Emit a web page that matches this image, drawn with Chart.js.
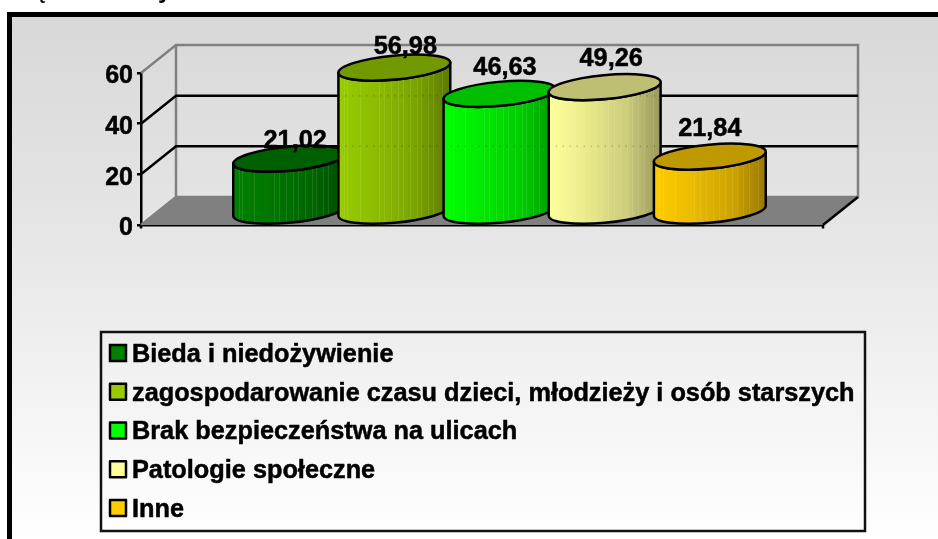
<!DOCTYPE html>
<html lang="pl">
<head>
<meta charset="utf-8">
<title>Wykres</title>
<script src="https://cdn.jsdelivr.net/npm/chart.js@4/dist/chart.umd.min.js"></script>
<style>html,body{margin:0;padding:0;background:#fff}canvas{display:block}</style>
</head>
<body>
<canvas id="c" width="938" height="539"></canvas>
<script>
const categories = [""];
const seriesNames = ["Bieda i niedożywienie","zagospodarowanie czasu dzieci, młodzieży i osób starszych","Brak bezpieczeństwa na ulicach","Patologie społeczne","Inne"];
const seriesValues = [21.02, 56.98, 46.63, 49.26, 21.84];
const seriesColors = ["#008000","#99cc00","#00ff00","#ffff99","#ffcc00"];
const valueTexts = ["21,02","56,98","46,63","49,26","21,84"];
const yTicks = [0, 20, 40, 60];

const FONT = '"Liberation Sans", Arial, sans-serif';
const DEPTH = {x: 35, y: -28};
const LINE = 2.5;
const labelNudge = [[6,-24],[11,-27],[5.5,-32],[6.5,-34],[0,-34]];
const stripeFractions = [.05,.08,.19,.36,.41,.47,.53,.58,.64,.7,.74,.8,.85,.93];

function shade(hex, f){
  const n = parseInt(hex.slice(1),16);
  const c = [n>>16, (n>>8)&255, n&255].map(v => Math.round(v*f));
  return `rgb(${c[0]},${c[1]},${c[2]})`;
}
function heavyText(ctx, text, x, y){
  ctx.lineWidth = .5; ctx.strokeStyle = '#000'; ctx.lineJoin = 'round';
  ctx.strokeText(text, x, y);
  ctx.fillText(text, x, y);
}

const frame = {
  id:'frame',
  beforeDraw(chart){
    const {ctx,width,height} = chart;
    ctx.save();
    ctx.fillStyle = '#fff'; ctx.fillRect(0,0,width,height);
    ctx.fillStyle = '#000'; ctx.fillRect(7,12,width-7,height-12);
    const g = ctx.createLinearGradient(0,17,0,height);
    g.addColorStop(0,'#d8d8d8'); g.addColorStop(.42,'#e6e6e6'); g.addColorStop(1,'#ffffff');
    ctx.fillStyle = g; ctx.fillRect(12,17,width-12,height-17);
    ctx.fillStyle = '#000';
    ctx.font = `bold 24px ${FONT}`;
    ctx.textBaseline = 'alphabetic'; ctx.textAlign = 'left';
    ctx.fillText('ę', 34, -2);
    ctx.fillText('y', 158, -2);
    ctx.restore();
  }
};

const cylinders = {
  id:'cylinders',
  beforeDatasetsDraw(chart){
    const {ctx,chartArea:a,scales:{y}} = chart;
    const dx = DEPTH.x, dy = DEPTH.y;
    const y0 = y.getPixelForValue(0), yT = y.getPixelForValue(60);
    ctx.save();
    // floor
    ctx.fillStyle = '#808080';
    ctx.beginPath();
    ctx.moveTo(a.left,y0); ctx.lineTo(a.left+dx,y0+dy); ctx.lineTo(a.right+dx,y0+dy); ctx.lineTo(a.right,y0);
    ctx.closePath(); ctx.fill();
    // walls
    ctx.lineWidth = LINE; ctx.strokeStyle = '#808080';
    ctx.beginPath();
    ctx.moveTo(a.left,y0); ctx.lineTo(a.left+dx,y0+dy); ctx.lineTo(a.right+dx,y0+dy);
    ctx.lineTo(a.right+dx,yT+dy); ctx.lineTo(a.left+dx,yT+dy); ctx.lineTo(a.left,yT);
    ctx.moveTo(a.left+dx,yT+dy); ctx.lineTo(a.left+dx,y0+dy);
    ctx.stroke();
    // gridlines
    ctx.strokeStyle = '#000';
    ctx.beginPath();
    yTicks.filter(v => v>0 && v<60).forEach(v => {
      const p = y.getPixelForValue(v);
      ctx.moveTo(a.left,p); ctx.lineTo(a.left+dx,p+dy); ctx.lineTo(a.right+dx,p+dy);
    });
    ctx.moveTo(a.right,y0); ctx.lineTo(a.right+dx,y0+dy);
    ctx.moveTo(a.left,y0); ctx.lineTo(a.left,y0+3.5);
    ctx.moveTo(a.right,y0); ctx.lineTo(a.right,y0+3.5);
    ctx.stroke();
    // cylinders
    chart.data.datasets.forEach((ds,i) => {
      const el = chart.getDatasetMeta(i).data[0];
      const cx = el.x + dx/2;
      const A = el.width*0.534, B = 12, phi = -5.35*Math.PI/180;
      const tR = Math.atan2(-B*Math.sin(phi), A*Math.cos(phi)), tL = tR+Math.PI;
      const ex = A*Math.cos(tR)*Math.cos(phi) - B*Math.sin(tR)*Math.sin(phi);
      const ey = A*Math.cos(tR)*Math.sin(phi) + B*Math.sin(tR)*Math.cos(phi);
      const rise = Math.sqrt(A*A*Math.sin(phi)**2 + B*B*Math.cos(phi)**2);
      const cTop = el.y - rise, cBot = el.base - rise;
      const color = seriesColors[i];
      const body = () => {
        ctx.beginPath();
        ctx.moveTo(cx+ex, cTop+ey);
        ctx.lineTo(cx+ex, cBot+ey);
        ctx.ellipse(cx,cBot,A,B,phi,tR,tL,false);
        ctx.lineTo(cx-ex, cTop-ey);
        ctx.ellipse(cx,cTop,A,B,phi,tL,tR,true);
        ctx.closePath();
      };
      const g = ctx.createLinearGradient(cx-ex,0,cx+ex,0);
      g.addColorStop(0,shade(color,1)); g.addColorStop(.3,shade(color,.93));
      g.addColorStop(.7,shade(color,.8)); g.addColorStop(1,shade(color,.6));
      body(); ctx.fillStyle = g; ctx.fill();
      // facets and gridlines showing through the cylinder wall
      ctx.save();
      body(); ctx.clip();
      ctx.lineWidth = 1; ctx.strokeStyle = 'rgba(255,255,255,.1)';
      ctx.beginPath();
      stripeFractions.forEach(f => {
        const sx = Math.round(cx-ex+f*2*ex)+.5;
        ctx.moveTo(sx,cTop-20); ctx.lineTo(sx,cBot+20);
      });
      ctx.stroke();
      ctx.setLineDash([1,6]); ctx.strokeStyle = 'rgba(0,0,0,.22)'; ctx.lineWidth = 2;
      ctx.beginPath();
      yTicks.filter(v => v>0 && v<60).forEach(v => {
        const p = y.getPixelForValue(v)+dy;
        ctx.moveTo(cx-ex,p); ctx.lineTo(cx+ex,p);
      });
      ctx.stroke();
      ctx.restore();
      ctx.lineWidth = LINE; ctx.strokeStyle = '#000'; ctx.lineJoin = 'round';
      body(); ctx.stroke();
      ctx.beginPath(); ctx.ellipse(cx,cTop,A,B,phi,0,Math.PI*2);
      ctx.fillStyle = shade(color,.75); ctx.fill(); ctx.stroke();
    });
    // value labels
    ctx.fillStyle = '#000'; ctx.font = `bold 25.3px ${FONT}`;
    ctx.textAlign = 'center'; ctx.textBaseline = 'alphabetic';
    chart.data.datasets.forEach((ds,i) => {
      const el = chart.getDatasetMeta(i).data[0];
      heavyText(ctx, valueTexts[i], el.x + dx/2 + labelNudge[i][0], el.y + labelNudge[i][1]);
    });
    ctx.restore();
    return false;
  }
};

const legendBox = {
  id:'legendBox',
  afterDraw(chart){
    const {ctx} = chart;
    const L=101, T=332, R=865, Bt=531;
    ctx.save();
    ctx.lineWidth = 2.5; ctx.strokeStyle = '#111';
    ctx.strokeRect(L,T,R-L,Bt-T);
    ctx.font = `bold 25.3px ${FONT}`; ctx.textBaseline = 'middle'; ctx.textAlign = 'left';
    chart.data.datasets.forEach((ds,i) => {
      const yc = 353 + i*38.75;
      ctx.fillStyle = ds.backgroundColor; ctx.strokeStyle = '#000'; ctx.lineWidth = 2.5;
      ctx.fillRect(110,yc-8,16,16); ctx.strokeRect(110,yc-8,16,16);
      ctx.fillStyle = '#000';
      heavyText(ctx, ds.label, 132, yc+2);
    });
    ctx.restore();
  }
};

new Chart(document.getElementById('c'), {
  type:'bar',
  data:{
    labels:categories,
    datasets:seriesNames.map((n,i)=>({label:n,data:[seriesValues[i]],backgroundColor:seriesColors[i]}))
  },
  options:{
    responsive:false,
    animation:false,
    devicePixelRatio:1,
    layout:{padding:{left:0,top:73,right:115,bottom:314}},
    datasets:{bar:{barPercentage:1,categoryPercentage:0.771}},
    plugins:{legend:{display:false},tooltip:{enabled:false},title:{display:false}},
    scales:{
      x:{
        afterFit(s){s.height=0;},
        ticks:{display:false},
        grid:{display:false},
        border:{display:true,color:'#000',width:LINE}
      },
      y:{
        min:0,max:60,
        afterFit(s){s.width=141;},
        afterBuildTicks(s){s.ticks=yTicks.map(v=>({value:v}));},
        ticks:{color:'#000',font:{family:FONT,size:25,weight:'bold'},padding:4,labelOffset:3.5,textStrokeColor:'#000',textStrokeWidth:.5},
        grid:{drawOnChartArea:false,color:'#000',tickLength:4,lineWidth:LINE},
        border:{display:true,color:'#000',width:LINE}
      }
    }
  },
  plugins:[frame,cylinders,legendBox]
});
</script>
</body>
</html>
